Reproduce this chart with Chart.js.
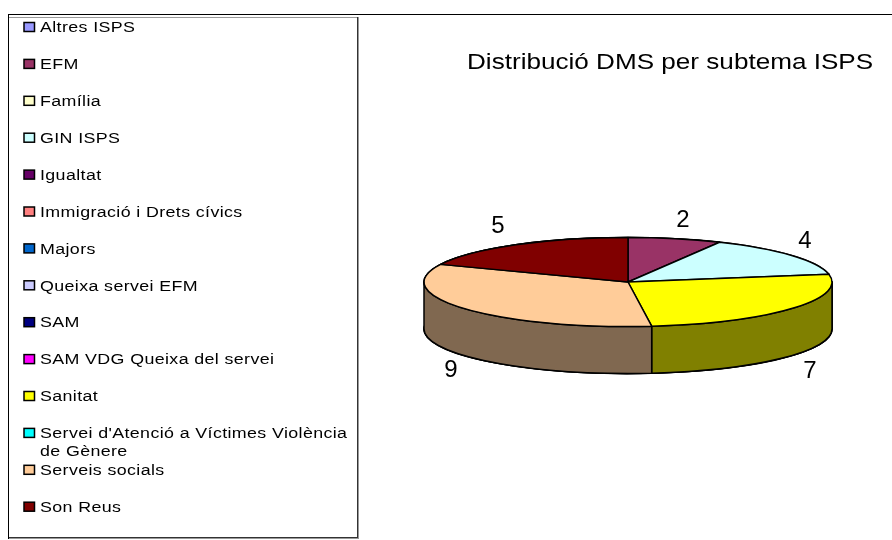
<!DOCTYPE html>
<html><head><meta charset="utf-8">
<script src="https://cdn.jsdelivr.net/npm/chart.js@4/dist/chart.umd.js"></script>
<style>html,body{margin:0;padding:0;background:#fff}canvas{display:block}</style>
</head><body><canvas id="c" width="892" height="540"></canvas>
<script>
const categories = ["Altres ISPS","EFM","Família","GIN ISPS","Igualtat","Immigració i Drets cívics","Majors","Queixa servei EFM","SAM","SAM VDG Queixa del servei","Sanitat","Servei d'Atenció a Víctimes Violència de Gènere","Serveis socials","Son Reus"];
const values = [0,2,0,4,0,0,0,0,0,0,7,0,9,5];
const colors = ["#9999FF","#993366","#FFFFCC","#CCFFFF","#660066","#FF8080","#0066CC","#CCCCFF","#000080","#FF00FF","#FFFF00","#00FFFF","#FFCC99","#800000"];
const sideColors = ["#666699","#662244","#808066","#66CCCC","#330033","#804040","#003366","#666680","#000040","#800080","#808000","#008080","#806850","#400000"];
const chartTitle = "Distribució DMS per subtema ISPS";
const legendLines = {"Servei d'Atenció a Víctimes Violència de Gènere":["Servei d'Atenció a Víctimes Violència","de Gènere"]};
const labelSpots = {1:[683,220],3:[805,241],10:[810,371],12:[451,370],13:[498,226]};

const SQUASH = 44.5/204, DEPTH = 47;
const FONT = '"Liberation Sans", Arial, sans-serif';

function wideText(ctx,t,x,y,sx){
  ctx.save(); ctx.translate(x,y); ctx.scale(sx,1); ctx.fillText(t,0,0); ctx.restore();
}
function norm(a){const t=Math.PI*2;return a<-Math.PI/2?a+t:a;}

const pie3d = {
  id:'pie3d',
  beforeDatasetsDraw(chart){
    const ctx = chart.ctx, arcs = chart.getDatasetMeta(0).data;
    const list = arcs.map((a,i)=>({i,p:a.getProps(['x','y','startAngle','endAngle','outerRadius'],true)})).filter(o=>values[o.i]>0);
    ctx.save();
    ctx.strokeStyle='#000'; ctx.lineWidth=1.5; ctx.lineJoin='round';
    list.forEach(({i,p})=>{
      if(norm(p.startAngle)>=Math.PI) return;
      const s=Math.max(norm(p.startAngle),0), e=Math.min(norm(p.endAngle),Math.PI);
      const rx=p.outerRadius, ry=rx*SQUASH;
      ctx.beginPath();
      ctx.ellipse(p.x,p.y,rx,ry,0,s,e);
      ctx.ellipse(p.x,p.y+DEPTH,rx,ry,0,e,s,true);
      ctx.closePath();
      ctx.fillStyle=sideColors[i]; ctx.fill(); ctx.stroke();
    });
    list.forEach(({i,p})=>{
      const rx=p.outerRadius, ry=rx*SQUASH;
      ctx.beginPath();
      ctx.moveTo(p.x,p.y);
      ctx.ellipse(p.x,p.y,rx,ry,0,p.startAngle,p.endAngle);
      ctx.closePath();
      ctx.fillStyle=colors[i]; ctx.fill(); ctx.stroke();
    });
    ctx.restore();
    return false;
  },
  afterDraw(chart){
    const ctx=chart.ctx;
    ctx.save();
    ctx.fillStyle='#999'; ctx.fillRect(8,17,351,1); ctx.fillRect(358,17,1,522); ctx.fillRect(8,538,351,1);
    ctx.fillStyle='#333'; ctx.fillRect(357,17,1,521); ctx.fillRect(8,537,350,1);
    ctx.fillStyle='#000'; ctx.fillRect(8,14,884,1); ctx.fillRect(8,14,1,525);
    ctx.textBaseline='middle'; ctx.textAlign='left';
    categories.forEach((c,i)=>{
      const y=27+i*36.9;
      ctx.fillStyle=colors[i]; ctx.strokeStyle='#000'; ctx.lineWidth=1.5;
      ctx.fillRect(24,y-4.5,10.5,9); ctx.strokeRect(24,y-4.5,10.5,9);
      ctx.fillStyle='#000'; ctx.font='15.5px '+FONT; ctx.letterSpacing='0.33px';
      const lines=legendLines[c]||[c];
      lines.forEach((t,k)=>wideText(ctx,t,40,y+1+k*18,1.15));
    });
    ctx.letterSpacing='0px';
    ctx.font='22.5px '+FONT; wideText(ctx,chartTitle,467,63,1.16);
    ctx.font='24px '+FONT; ctx.textAlign='center';
    Object.keys(labelSpots).forEach(i=>ctx.fillText(String(values[i]),labelSpots[i][0],labelSpots[i][1]));
    ctx.restore();
  }
};

new Chart(document.getElementById('c'),{
  type:'pie',
  data:{labels:categories,datasets:[{data:values,backgroundColor:colors,borderWidth:0}]},
  options:{
    responsive:false,animation:false,
    layout:{padding:{left:424,right:60,top:78,bottom:54}},
    plugins:{legend:{display:false},tooltip:{enabled:false},title:{display:false}}
  },
  plugins:[pie3d]
});
</script></body></html>
